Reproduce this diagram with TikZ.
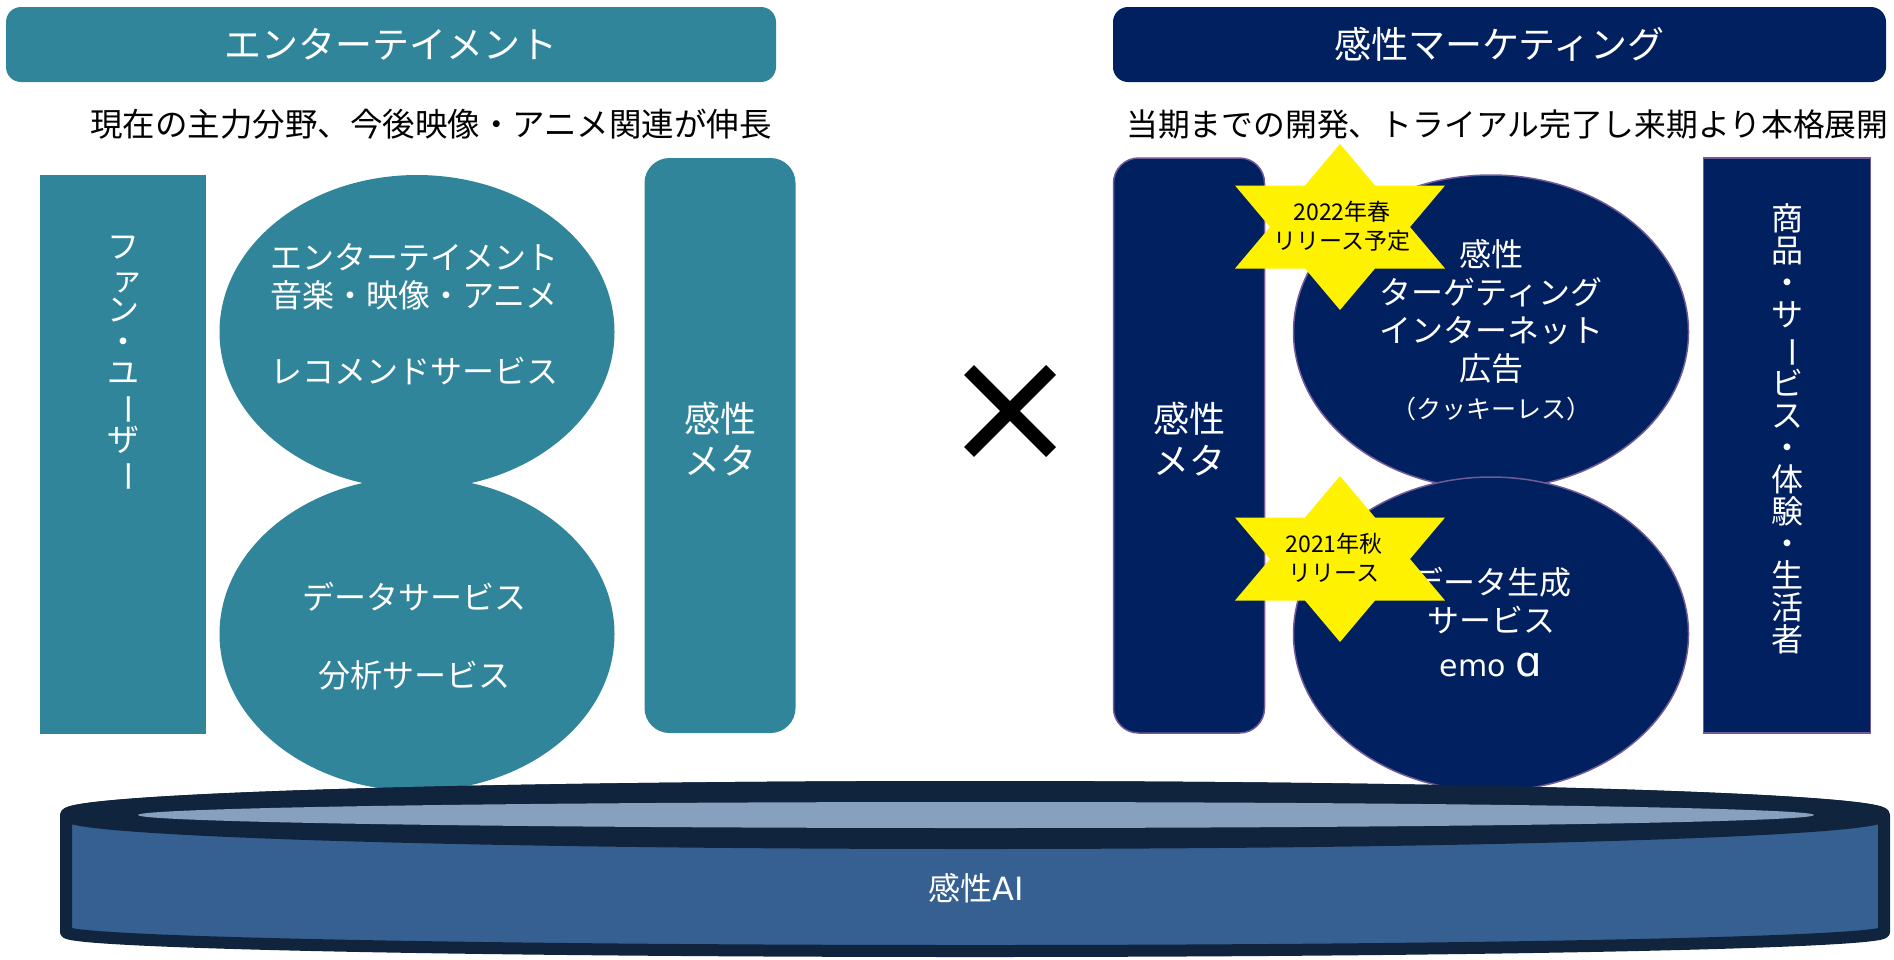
\documentclass[tikz,border=0pt]{standalone}
\usepackage{fontspec}
\setmainfont{Noto Sans CJK JP}
\newfontfamily\latinf{DejaVu Sans}
\usepackage{graphicx}
\usetikzlibrary{shapes.geometric}
\definecolor{tealc}{RGB}{49,133,155}
\definecolor{navyc}{RGB}{0,32,96}
\definecolor{purpc}{RGB}{112,90,152}
\definecolor{cylbody}{RGB}{54,96,146}
\definecolor{cylrim}{RGB}{16,36,62}
\definecolor{cyltop}{RGB}{134,160,190}
\newcommand{\vbar}{\rotatebox[origin=c]{-90}{ー}}
\tikzset{
  titlebar/.style={rounded corners=15pt, minimum width=770pt, minimum height=75pt, inner sep=0pt, text=white, font=\fontsize{37pt}{40pt}\selectfont},
  subt/.style={inner sep=0pt, text=black, font=\fontsize{32.5pt}{36pt}\selectfont},
  oval/.style={ellipse, minimum width=395pt, minimum height=314pt, inner sep=0pt},
  metabox/.style={rounded corners=25pt, minimum width=151pt, minimum height=575pt, inner sep=0pt},
  wtext/.style={text=white, align=center, inner sep=0pt, font=\fontsize{32pt}{38pt}\selectfont},
  btext/.style={text=black, align=center, inner sep=0pt, font=\fontsize{23pt}{29pt}\selectfont},
  navyline/.style={draw=purpc, line width=1.5pt, fill=navyc},
  cyl/.style={draw=cylrim, line width=12pt, line join=round},
}
\begin{document}
\begin{tikzpicture}[x=1pt,y=-1pt]
\useasboundingbox (0,0) rectangle (1894,959);
% ---- left side
\node[titlebar, fill=tealc] (lt) at (391,44.5) {エンターテイメント};
\node[subt] (ls) at (431,124) {現在の主力分野、今後映像・アニメ関連が伸長};
\node[fill=tealc, minimum width=166pt, minimum height=559pt, inner sep=0pt] (fan) at (123,454) {};
\node[wtext, font=\fontsize{32pt}{31.5pt}\selectfont] (fant) at (123,364) {フ\\\hspace{8pt}ァ\\ン\\・\\ユ\\\vbar\\ザ\\\vbar};
\node[oval, fill=tealc] (le1) at (417,332) {};
\node[oval, fill=tealc] (le2) at (417,634) {};
\node[metabox, fill=tealc] (lm) at (720,445.5) {};
\node[wtext, font=\fontsize{36pt}{42pt}\selectfont] (lmt) at (720,439) {感性\\メタ};
\node[wtext] (le1t) at (414,314) {エンターテイメント\\音楽・映像・アニメ\\[38pt]レコメンドサービス};
\node[wtext] (le2t) at (414,636) {データサービス\\[40pt]分析サービス};
% ---- cross
\coordinate (xc) at (1010,411);
\draw[line width=14pt, line cap=butt] (xc) ++(-41,-41) -- ++(82,82);
\draw[line width=14pt, line cap=butt] (xc) ++(41,-41) -- ++(-82,82);
% ---- right side
\node[titlebar, fill=navyc, minimum width=773pt] (rt) at (1499.5,44.5) {感性マーケティング};
\node[subt, anchor=west, font=\fontsize{31.8pt}{36pt}\selectfont] (rs) at (1126,124) {当期までの開発、トライアル完了し来期より本格展開};
\node[metabox, navyline] (rm) at (1189,445.5) {};
\node[wtext, font=\fontsize{36pt}{42pt}\selectfont] (rmt) at (1189,439) {感性\\メタ};
\node[navyline, minimum width=167pt, minimum height=575pt, inner sep=0pt] (goods) at (1787,445.5) {};
\node[wtext, font=\fontsize{32pt}{32pt}\selectfont] (goodst) at (1787,429) {商\\品\\・\\サ\\\vbar\\ビ\\ス\\・\\体\\験\\・\\生\\活\\者};
\node[oval, navyline] (re1) at (1491,332) {};
\node[oval, navyline] (re2) at (1491,634) {};
\node[wtext] (re1t) at (1491,330) {感性\\ターゲティング\\インターネット\\広告\\{\fontsize{25pt}{30pt}\selectfont（クッキーレス）}};
\node[wtext] (re2t) at (1491,622) {データ生成\\サービス\\[6pt]{\latinf\fontsize{30pt}{36pt}\selectfont emo {\fontsize{42pt}{36pt}\selectfont ɑ}}};
% ---- stars
\coordinate (s1) at (1340,227);
\coordinate (s2) at (1340,559);
\fill[yellow] (s1) ++(0,-83) -- ++(105,124.5) -- ++(-210,0) -- cycle;
\fill[yellow] (s1) ++(0,83) -- ++(105,-124.5) -- ++(-210,0) -- cycle;
\fill[yellow] (s2) ++(0,-83) -- ++(105,124.5) -- ++(-210,0) -- cycle;
\fill[yellow] (s2) ++(0,83) -- ++(105,-124.5) -- ++(-210,0) -- cycle;
\node[btext] (s1t) at (1342,226) {2022年春\\リリース予定};
\node[btext] (s2t) at (1334,558) {2021年秋\\リリース};
% ---- cylinder
\filldraw[cyl, fill=cylbody] (66,815) -- (66,932) arc[start angle=180, end angle=0, x radius=909, y radius=19] -- (1884,815) arc[start angle=0, end angle=-180, x radius=909, y radius=28] -- cycle;
\filldraw[cyl, fill=cylrim] (975,815) ellipse[x radius=909, y radius=28];
\fill[cyltop] (976,815) ellipse[x radius=838, y radius=13];
\node[text=white, inner sep=0pt, font=\fontsize{32pt}{36pt}\selectfont] (ai) at (976,888) {感性{\latinf AI}};
\end{tikzpicture}
\end{document}
